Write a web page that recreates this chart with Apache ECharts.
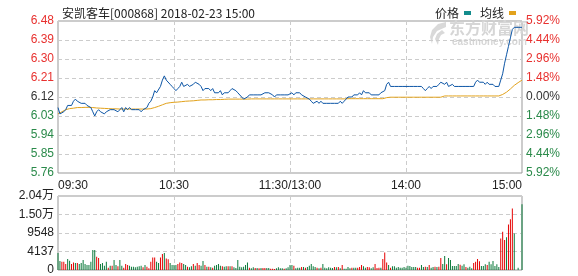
<!DOCTYPE html>
<html><head><meta charset="utf-8">
<script src="https://cdn.jsdelivr.net/npm/echarts@6/dist/echarts.min.js"></script>
<style>html,body{margin:0;padding:0;background:#fff}#c{width:578px;height:276px}</style>
</head><body><div id="c"></div>
<script>
const titleText = '安凯客车[000868] 2018-02-23 15:00';
const timeTicks = [0, 60, 120, 180, 240];
const timeLabels = ['09:30', '10:30', '11:30/13:00', '14:00', '15:00'];
const volLabels = ['0', '4137', '9548', '1.50万', '2.04万'];
const preClose = 6.12;
const price = [
6.07,6.04,6.04,6.05,6.06,6.08,6.08,6.08,6.10,6.11,
6.10,6.10,6.09,6.09,6.09,6.08,6.08,6.07,6.05,6.03,
6.05,6.06,6.05,6.05,6.04,6.05,6.05,6.06,6.06,6.06,
6.06,6.05,6.06,6.07,6.05,6.07,6.06,6.07,6.06,6.06,
6.06,6.06,6.06,6.05,6.06,6.06,6.07,6.09,6.10,6.12,
6.15,6.14,6.14,6.17,6.20,6.22,6.20,6.20,6.18,6.17,
6.16,6.15,6.16,6.17,6.19,6.17,6.17,6.18,6.17,6.17,
6.18,6.19,6.19,6.18,6.17,6.15,6.16,6.16,6.16,6.15,
6.16,6.14,6.14,6.14,6.15,6.13,6.14,6.14,6.14,6.15,
6.16,6.16,6.15,6.14,6.14,6.12,6.11,6.11,6.12,6.13,
6.13,6.13,6.13,6.13,6.13,6.13,6.13,6.14,6.14,6.14,
6.14,6.13,6.12,6.13,6.13,6.13,6.13,6.13,6.13,6.13,
6.13,6.14,6.13,6.14,6.14,6.14,6.13,6.13,6.12,6.12,
6.11,6.10,6.09,6.09,6.10,6.09,6.10,6.09,6.09,6.09,
6.09,6.09,6.09,6.09,6.09,6.09,6.10,6.09,6.10,6.11,
6.12,6.12,6.12,6.13,6.13,6.13,6.14,6.13,6.15,6.14,
6.14,6.14,6.13,6.13,6.13,6.13,6.13,6.14,6.14,6.15,
6.18,6.19,6.17,6.17,6.17,6.17,6.17,6.17,6.17,6.17,
6.17,6.17,6.17,6.17,6.17,6.17,6.17,6.17,6.17,6.16,
6.15,6.16,6.17,6.16,6.17,6.17,6.17,6.18,6.19,6.19,
6.18,6.19,6.17,6.17,6.18,6.17,6.17,6.17,6.17,6.17,
6.17,6.17,6.17,6.17,6.17,6.17,6.19,6.20,6.19,6.19,
6.19,6.18,6.19,6.18,6.18,6.18,6.17,6.17,6.17,6.20,
6.23,6.28,6.32,6.36,6.40,6.44,6.45,6.45,6.45,6.45,
6.45];
const avgPrice = [
6.040,6.045,6.050,6.055,6.060,6.063,6.065,6.067,6.067,6.068,
6.070,6.070,6.070,6.071,6.071,6.071,6.071,6.070,6.070,6.068,
6.068,6.067,6.067,6.066,6.066,6.065,6.065,6.065,6.064,6.064,
6.064,6.064,6.063,6.063,6.063,6.063,6.063,6.063,6.063,6.063,
6.063,6.063,6.063,6.063,6.063,6.063,6.063,6.064,6.065,6.067,
6.070,6.073,6.076,6.079,6.083,6.087,6.090,6.092,6.093,6.094,
6.095,6.096,6.096,6.097,6.098,6.099,6.100,6.100,6.101,6.101,
6.102,6.103,6.104,6.105,6.106,6.106,6.106,6.107,6.107,6.107,
6.107,6.108,6.108,6.108,6.108,6.109,6.109,6.109,6.110,6.110,
6.110,6.110,6.110,6.110,6.110,6.110,6.110,6.110,6.110,6.110,
6.111,6.111,6.111,6.111,6.111,6.111,6.111,6.111,6.111,6.111,
6.111,6.111,6.111,6.111,6.111,6.111,6.111,6.111,6.111,6.111,
6.111,6.111,6.111,6.111,6.111,6.111,6.111,6.111,6.111,6.111,
6.111,6.111,6.111,6.111,6.111,6.111,6.111,6.111,6.111,6.111,
6.111,6.111,6.111,6.111,6.111,6.111,6.111,6.111,6.111,6.111,
6.112,6.112,6.112,6.112,6.112,6.112,6.112,6.112,6.112,6.112,
6.112,6.112,6.112,6.112,6.112,6.112,6.112,6.112,6.112,6.115,
6.117,6.119,6.119,6.119,6.119,6.119,6.119,6.119,6.119,6.119,
6.119,6.119,6.119,6.119,6.119,6.119,6.119,6.119,6.119,6.119,
6.119,6.119,6.119,6.119,6.119,6.119,6.119,6.119,6.119,6.119,
6.125,6.125,6.125,6.125,6.125,6.125,6.125,6.125,6.125,6.125,
6.125,6.125,6.125,6.125,6.125,6.125,6.125,6.125,6.125,6.125,
6.125,6.125,6.125,6.125,6.125,6.125,6.125,6.125,6.125,6.128,
6.132,6.137,6.143,6.150,6.158,6.167,6.175,6.182,6.188,6.194,
6.200];
const volume = [
4670,2470,2290,2290,1650,3020,2560,1650,2100,1920,
1920,1650,1920,2750,1650,1370,1370,2290,5490,5490,
3660,3290,1650,1920,1190,2290,640,1190,1190,2750,
1370,1000,2750,1190,640,1650,1370,1190,915,915,
730,915,1000,1190,730,1370,915,460,2290,3480,
3480,2290,1920,3480,4390,4670,3200,2930,1920,1370,
1370,1370,1650,2100,1920,1650,1370,915,730,1000,
1650,1190,1920,1370,1190,2470,1370,915,915,730,
640,1190,1370,1650,1190,1000,915,1000,1000,1000,
1000,730,550,2750,915,730,915,1370,2100,640,
460,730,550,550,460,550,550,550,550,550,
370,370,275,460,730,460,460,370,460,730,
1370,1370,1190,460,640,640,820,820,640,820,
1190,1650,1000,820,640,460,640,1650,640,460,
730,640,550,820,730,820,460,1370,370,370,
820,460,640,640,640,640,820,1370,1000,640,
820,730,460,730,1650,550,640,640,3020,4850,
2100,1370,640,1000,1000,640,820,640,640,820,
640,1190,1100,820,820,820,640,640,1370,820,
915,820,1370,640,820,915,820,915,3290,1650,
3840,1560,3290,2750,1100,1100,1100,1650,1460,1190,
1560,820,640,915,460,1920,2290,3020,2380,1100,
1100,1560,1370,2290,1560,2470,1100,1560,820,8690,
10520,8240,9060,12540,14000,16930,10070,0,640,0,
18120];
const volUp = [
0,0,1,1,1,0,0,1,1,0,
1,0,0,0,0,0,0,0,0,0,
1,1,0,0,0,0,1,0,1,0,
0,1,0,0,1,1,1,0,0,0,
0,0,0,0,1,0,1,1,1,1,
1,0,0,1,1,0,1,1,0,0,
0,0,1,1,1,0,0,1,0,0,
1,0,1,1,0,0,1,0,1,0,
1,0,0,0,0,1,0,0,1,0,
1,0,0,0,0,0,0,0,0,1,
0,0,1,0,1,0,1,1,0,0,
1,1,1,0,0,0,0,1,0,0,
0,0,1,0,0,0,1,0,1,0,
0,0,0,0,1,0,1,0,0,0,
0,0,0,1,0,1,0,1,0,0,
0,0,1,0,0,1,1,1,0,0,
1,1,0,0,1,1,1,0,1,1,
1,0,1,0,0,0,0,0,0,0,
0,0,0,0,0,0,1,1,0,0,
1,0,1,0,0,1,0,1,1,0,
0,1,0,0,0,0,0,0,1,0,
0,1,0,0,0,1,1,1,1,0,
0,0,1,0,0,0,0,0,0,1,
1,1,0,1,1,1,0,0,0,0,
0];

const cats = price.map((_, i) => String(i));
const FONT = '"Liberation Sans", "Noto Sans CJK SC", sans-serif';
const RED = '#e8312f', GREEN = '#2a8a4a', DARK = '#333';
const GRIDC = '#cccccc';
const splitIdx = [60, 120, 180];

const chart = echarts.init(document.getElementById('c'), null, {renderer: 'canvas'});
const labelRich = {
  u: {color: RED, fontSize: 12, fontFamily: FONT},
  d: {color: GREEN, fontSize: 12, fontFamily: FONT},
  n: {color: DARK, fontSize: 12, fontFamily: FONT}
};
chart.setOption({
  animation: false,
  backgroundColor: '#fff',
  title: {
    text: titleText, left: 57, top: 2,
    textStyle: {fontSize: 12, fontWeight: 'normal', color: '#222', fontFamily: '"Noto Sans CJK SC", sans-serif'}
  },
  legend: {
    data: ['价格', '均线'], left: 430, top: 2, align: 'right', icon: 'rect',
    itemWidth: 7, itemHeight: 4, itemGap: 9,
    textStyle: {fontSize: 12, color: '#222', fontFamily: '"Noto Sans CJK SC", sans-serif'}
  },
  graphic: [
    {type: 'text', left: 449, top: 20, z: 0, silent: true,
     style: {text: '东方财富网', fill: '#d6d6d6', font: 'bold 16px "Noto Sans CJK SC", sans-serif'}},
    {type: 'text', left: 452, top: 37, z: 0, silent: true,
     style: {text: 'eastmoney.com', fill: '#d6d6d6', font: 'bold 10px "Liberation Sans", sans-serif'}},
    {type: 'polygon', z: 0, silent: true,
     shape: {points: [[446, 22], [438, 24], [432, 30], [430, 37], [432, 44], [433, 37], [437, 31], [446, 27]]},
     style: {fill: '#d9d9d9'}},
    {type: 'polygon', z: 0, silent: true,
     shape: {points: [[442, 30], [437, 34], [435, 39], [438, 45], [439, 39], [441, 35], [445, 33]]},
     style: {fill: '#d9d9d9'}}
  ],
  grid: [
    {left: 58, top: 21, width: 464, height: 152, show: true, borderColor: '#999', borderWidth: 1},
    {left: 58, top: 196, width: 464, height: 75, show: true, borderColor: '#999', borderWidth: 1}
  ],
  xAxis: [
    {type: 'category', gridIndex: 0, data: cats, boundaryGap: false,
     axisLine: {show: false}, axisTick: {show: false},
     axisLabel: {
       interval: (i) => timeTicks.indexOf(i) >= 0,
       formatter: (v) => timeLabels[timeTicks.indexOf(Number(v))] || '',
       color: '#222', fontSize: 12, fontFamily: FONT, margin: 7,
       alignMinLabel: 'left', alignMaxLabel: 'right'
     },
     splitLine: {show: true, interval: (i) => splitIdx.indexOf(i) >= 0,
       lineStyle: {color: GRIDC, type: [4, 3], width: 1}}},
    {type: 'category', gridIndex: 1, data: cats, boundaryGap: false,
     axisLine: {show: false}, axisTick: {show: false}, axisLabel: {show: false},
     splitLine: {show: true, interval: (i) => splitIdx.indexOf(i) >= 0,
       lineStyle: {color: GRIDC, type: [4, 3], width: 1}}}
  ],
  yAxis: [
    {type: 'value', gridIndex: 0, min: 5.76, max: 6.48, interval: 0.09, position: 'left',
     axisLine: {show: false}, axisTick: {show: false},
     axisLabel: {margin: 4, rich: labelRich,
       formatter: (v) => {
         const c = v > preClose + 0.004 ? 'u' : (v < preClose - 0.004 ? 'd' : 'n');
         return '{' + c + '|' + v.toFixed(2) + '}';
       }},
     splitLine: {show: true, lineStyle: {color: GRIDC, type: [4, 3], width: 1}}},
    {type: 'value', gridIndex: 0, min: -5.92, max: 5.92, interval: 1.48, position: 'right',
     axisLine: {show: false}, axisTick: {show: false}, splitLine: {show: false},
     axisLabel: {margin: 4, rich: labelRich,
       formatter: (v) => {
         const c = v > 0.01 ? 'u' : (v < -0.01 ? 'd' : 'n');
         return '{' + c + '|' + Math.abs(v).toFixed(2) + '%}';
       }}},
    {type: 'value', gridIndex: 1, min: 0, max: 20400, interval: 5100,
     axisLine: {show: false}, axisTick: {show: false},
     axisLabel: {margin: 4, color: '#222', fontSize: 12, fontFamily: '"Liberation Sans", "Noto Sans CJK SC", sans-serif',
       formatter: (v) => volLabels[Math.round(v / 5100)] || ''},
     splitLine: {show: true, lineStyle: {color: GRIDC, type: [4, 3], width: 1}}}
  ],
  series: [
    {name: '价格', type: 'line', xAxisIndex: 0, yAxisIndex: 0, data: price,
     showSymbol: false, symbol: 'none', z: 5,
     itemStyle: {color: '#138c8c'}, lineStyle: {color: '#0d56a6', width: 1}},
    {name: '均线', type: 'line', xAxisIndex: 0, yAxisIndex: 0, data: avgPrice,
     showSymbol: false, symbol: 'none', z: 4,
     itemStyle: {color: '#e2a21c'}, lineStyle: {color: '#e2a21c', width: 1}},
    {name: '成交量', type: 'bar', xAxisIndex: 1, yAxisIndex: 2, barWidth: 1,
     data: volume.map((v, i) => ({value: v, itemStyle: {color: volUp[i] ? '#e60000' : '#0b7a3b'}}))}
  ]
});
</script></body></html>
